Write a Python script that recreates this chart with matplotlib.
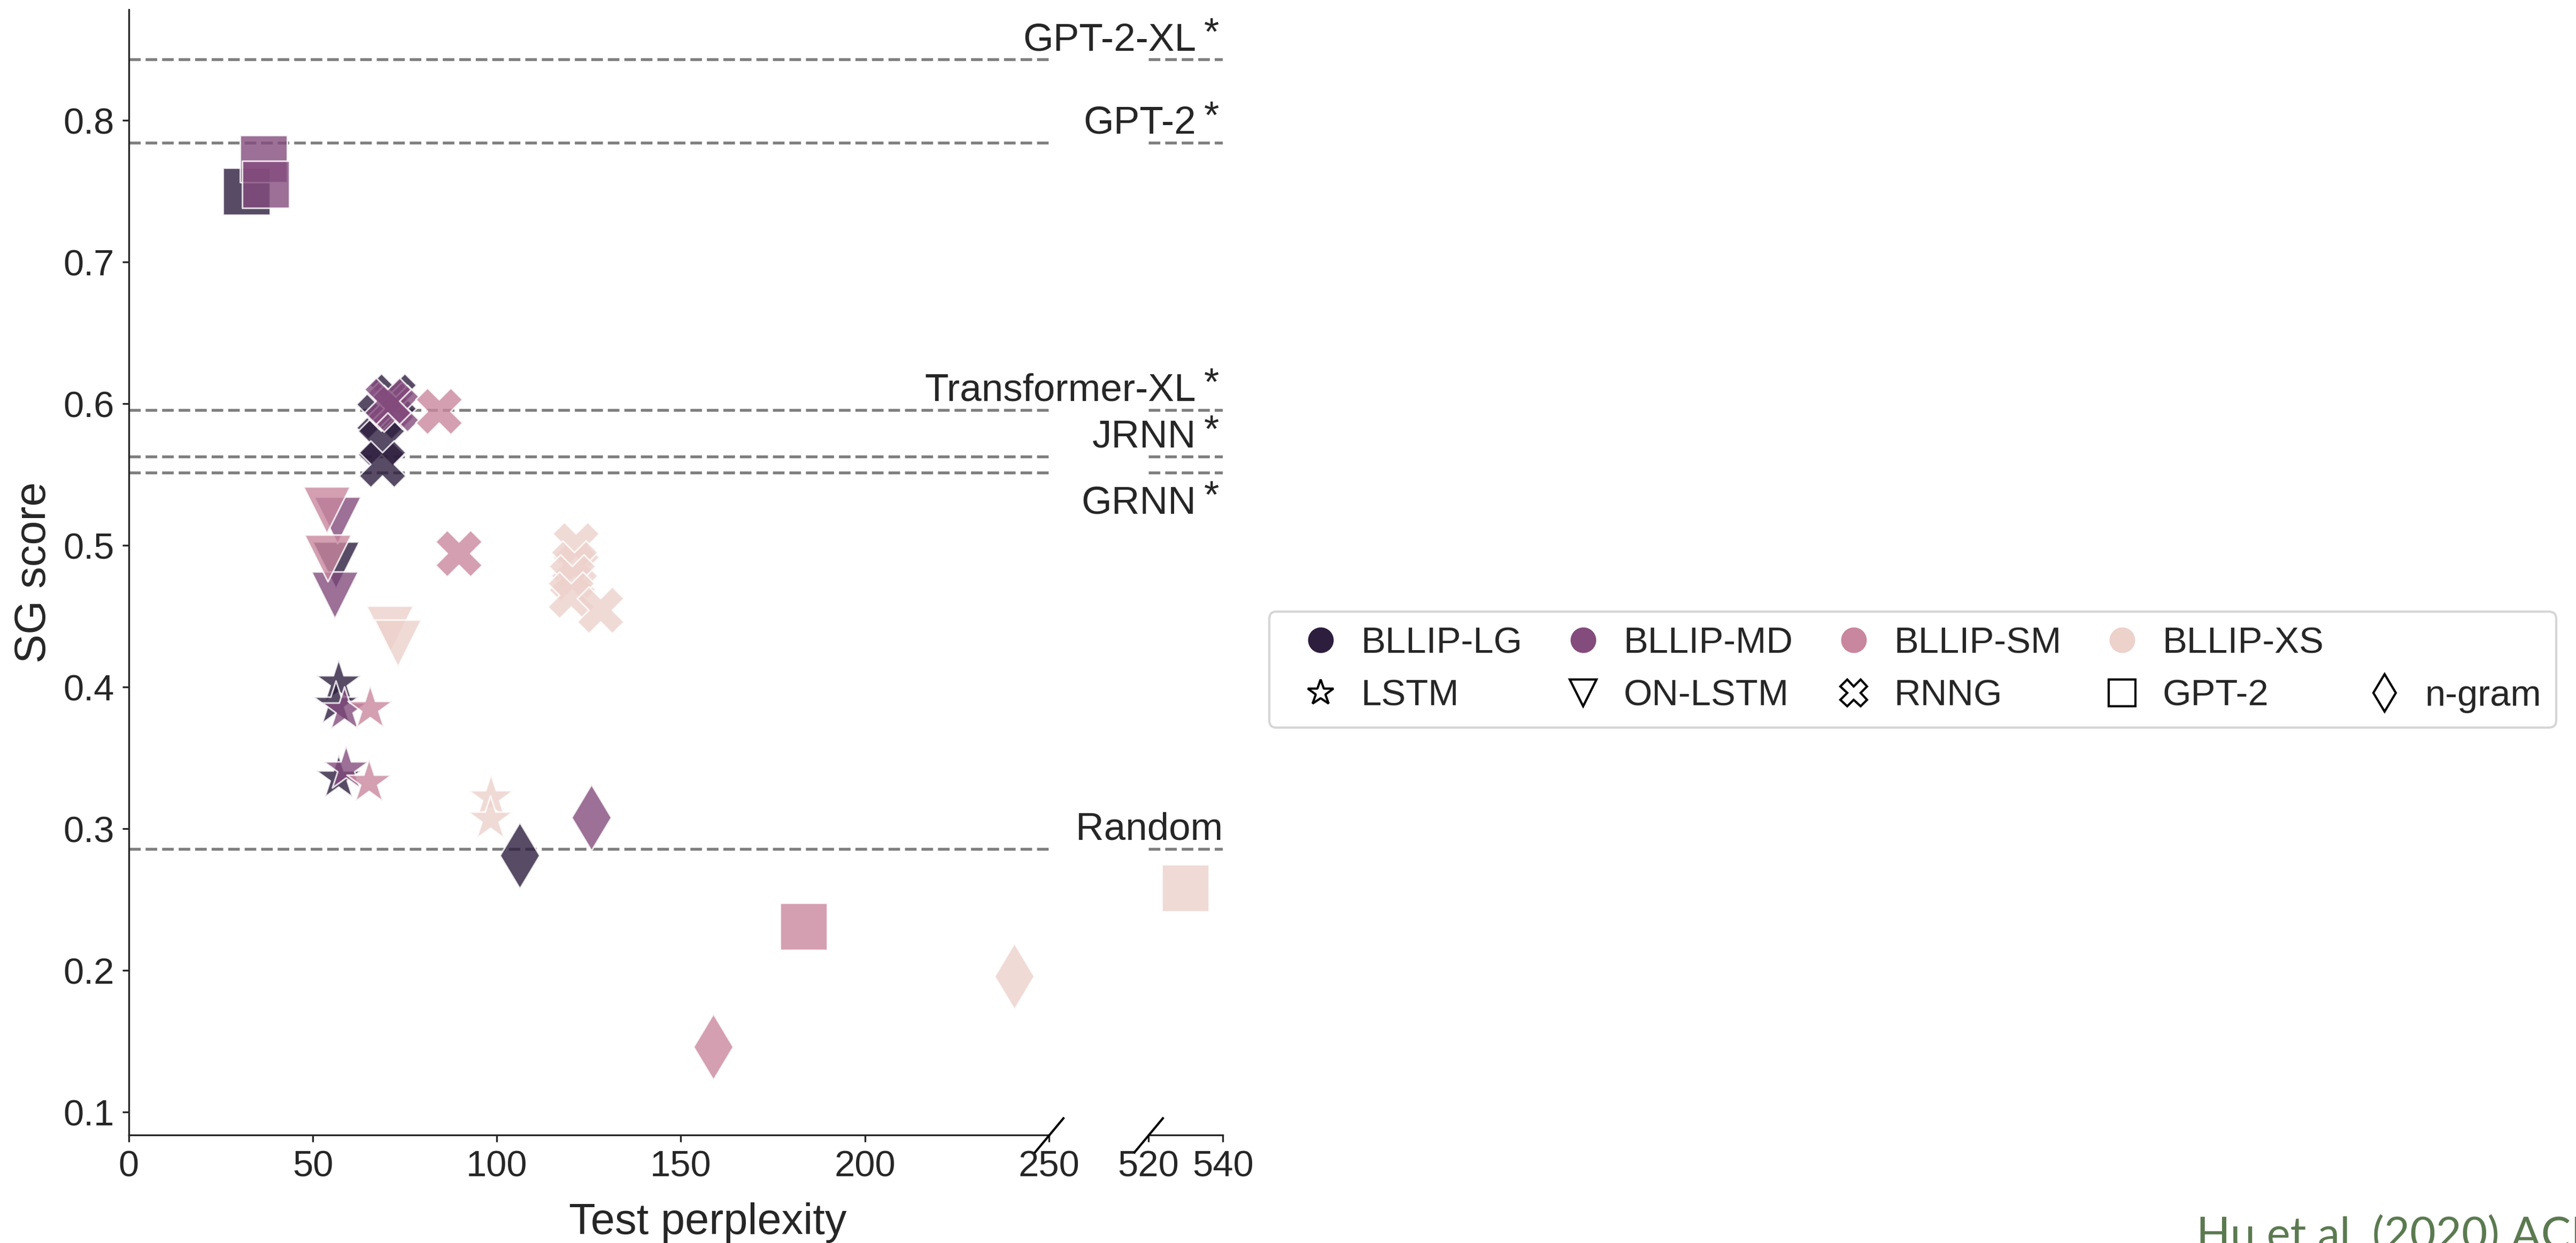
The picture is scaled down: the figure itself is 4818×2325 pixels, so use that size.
#!/usr/bin/env python3
import matplotlib
matplotlib.use("Agg")
import matplotlib.pyplot as plt
import matplotlib.lines as mlines
import seaborn as sns

# --- data ---
corpora = ["BLLIP-LG", "BLLIP-MD", "BLLIP-SM", "BLLIP-XS"]
models = ["LSTM", "ON-LSTM", "RNNG", "GPT-2", "n-gram"]

pt_model = (["LSTM"] * 9 + ["ON-LSTM"] * 7 + ["RNNG"] * 14
            + ["GPT-2"] * 5 + ["n-gram"] * 4)
pt_corpus = [
    # LSTM
    "BLLIP-LG", "BLLIP-LG", "BLLIP-LG", "BLLIP-MD", "BLLIP-MD",
    "BLLIP-SM", "BLLIP-SM", "BLLIP-XS", "BLLIP-XS",
    # ON-LSTM
    "BLLIP-LG", "BLLIP-MD", "BLLIP-MD", "BLLIP-SM", "BLLIP-SM",
    "BLLIP-XS", "BLLIP-XS",
    # RNNG
    "BLLIP-LG", "BLLIP-LG", "BLLIP-LG", "BLLIP-LG",
    "BLLIP-MD", "BLLIP-MD", "BLLIP-MD",
    "BLLIP-SM", "BLLIP-SM",
    "BLLIP-XS", "BLLIP-XS", "BLLIP-XS", "BLLIP-XS", "BLLIP-XS",
    # GPT-2
    "BLLIP-LG", "BLLIP-MD", "BLLIP-MD", "BLLIP-SM", "BLLIP-XS",
    # n-gram
    "BLLIP-LG", "BLLIP-MD", "BLLIP-SM", "BLLIP-XS",
]
pt_ppl = [
    57.0, 56.2, 57.0, 58.5, 59.0, 65.6, 65.3, 98.4, 98.2,
    56.3, 56.7, 55.9, 53.7, 54.0, 70.9, 73.1,
    71.8, 68.1, 68.6, 68.9, 71.1, 72.5, 70.3, 84.3, 89.6,
    121.5, 121.0, 120.5, 120.2, 128.1,
    32.0, 36.6, 37.2, 183.3, 529.9,
    106.2, 125.7, 158.8, 240.6,
]
pt_score = [
    0.403, 0.388, 0.336, 0.384, 0.3425, 0.385, 0.333, 0.322, 0.307,
    0.486, 0.518, 0.465, 0.525, 0.491, 0.441, 0.431,
    0.605, 0.5915, 0.5727, 0.5576, 0.599, 0.5967, 0.602, 0.595, 0.4945,
    0.500, 0.487, 0.477, 0.465, 0.4545,
    0.750, 0.773, 0.755, 0.231, 0.258,
    0.281, 0.308, 0.146, 0.196,
]

baseline_names = ["GPT-2-XL", "GPT-2", "Transformer-XL", "JRNN", "GRNN", "Random"]
baseline_scores = [0.843, 0.7843, 0.5957, 0.5627, 0.5515, 0.2857]
baseline_starred = [True, True, True, True, True, False]


def main():
    sns.set_style("ticks")
    plt.rcParams["font.family"] = ["Liberation Sans", "DejaVu Sans"]
    text_col = "#262626"

    palette = dict(zip(corpora, sns.cubehelix_palette(4, reverse=True)))
    markers = dict(zip(models, ["*", "v", "X", "s", "d"]))

    fig = plt.figure(figsize=(16.06, 7.75), dpi=300)
    ax1 = fig.add_axes([0.050, 0.0869, 0.3572, 0.9054])
    ax2 = fig.add_axes([0.4458, 0.0869, 0.0289, 0.9054])

    for ax in (ax1, ax2):
        for m in models:
            for c in corpora:
                xs = [p for p, mm, cc in zip(pt_ppl, pt_model, pt_corpus) if mm == m and cc == c]
                ys = [s for s, mm, cc in zip(pt_score, pt_model, pt_corpus) if mm == m and cc == c]
                if not xs:
                    continue
                ax.scatter(xs, ys, marker=markers[m], s=440, color=palette[c],
                           alpha=0.8, edgecolors="white", linewidths=0.75, zorder=3)
        for b in baseline_scores:
            ax.axhline(b, color="#7f7f7f", lw=1.3, ls=(0, (4.0, 1.7)), zorder=1)
        ax.set_ylim(0.0838, 0.8783)
        ax.tick_params(labelsize=16.5, length=3, width=0.8, pad=3.5,
                       colors=text_col)
        for s in ("top", "right"):
            ax.spines[s].set_visible(False)
        for s in ("left", "bottom"):
            ax.spines[s].set_color(text_col)
            ax.spines[s].set_linewidth(0.8)

    ax1.set_xlim(0, 250)
    ax1.set_xticks([0, 50, 100, 150, 200, 250])
    ax1.set_yticks([0.1, 0.2, 0.3, 0.4, 0.5, 0.6, 0.7, 0.8])
    ax1.set_ylabel("SG score", fontsize=19.5, color=text_col)

    ax2.set_xlim(520, 540)
    ax2.set_xticks([520, 540])
    ax2.spines["left"].set_visible(False)
    ax2.tick_params(axis="y", left=False, labelleft=False)

    # break marks on the x axis
    kw = dict(marker=[(-1, -1.2), (1, 1.2)], markersize=16, linestyle="none",
              color="k", mec="k", mew=1.0, clip_on=False, zorder=5)
    ax1.plot([1], [0], transform=ax1.transAxes, **kw)
    ax2.plot([0], [0], transform=ax2.transAxes, **kw)

    # baseline labels, the asterisk set apart and raised
    for name, b, star in zip(baseline_names, baseline_scores, baseline_starred):
        y = b - 0.0289 if name == "GRNN" else b + 0.0065
        if star:
            ax2.text(532.8, y, name, ha="right", va="baseline", fontsize=17.5,
                     color=text_col, zorder=6, clip_on=False)
            ax2.text(536.9, y + 0.004, "*", ha="center", va="baseline",
                     fontsize=17.5, color=text_col, zorder=6, clip_on=False)
        else:
            ax2.text(540, y, name, ha="right", va="baseline", fontsize=17.5,
                     color=text_col, zorder=6)

    fig.text(0.2747, 0.0073, "Test perplexity", ha="center", va="baseline",
             fontsize=19.5, color=text_col)

    # legend: corpora (colour) and model classes (marker)
    hc = {c: mlines.Line2D([], [], marker="o", ls="none", ms=10.5, color=palette[c],
                           mec=palette[c], label=c) for c in corpora}
    hm = {m: mlines.Line2D([], [], marker=markers[m], ls="none", ms=12,
                           mfc="none", mec="black", mew=1.0, label=m) for m in models}
    blank = mlines.Line2D([], [], ls="none", label="")
    handles = [hc["BLLIP-LG"], hm["LSTM"], hc["BLLIP-MD"], hm["ON-LSTM"],
               hc["BLLIP-SM"], hm["RNNG"], hc["BLLIP-XS"], hm["GPT-2"],
               blank, hm["n-gram"]]
    labels = [h.get_label() for h in handles]
    leg = fig.legend(handles, labels, ncol=5, loc="center left",
                     bbox_to_anchor=(0.4855, 0.4613), fontsize=16.5,
                     handlelength=2.0, handletextpad=0.1, columnspacing=0.65,
                     frameon=True, fancybox=True)
    leg.get_frame().set_edgecolor("0.8")
    for t in leg.get_texts():
        t.set_color(text_col)

    fig.text(0.8526, -0.005, "Hu et al. (2020) ACL", fontfamily="Lato",
             fontweight="normal", color="#5b7a50", fontsize=20, va="baseline")

    fig.savefig("out.png", dpi=300, facecolor="white")
    plt.close(fig)


if __name__ == "__main__":
    main()
